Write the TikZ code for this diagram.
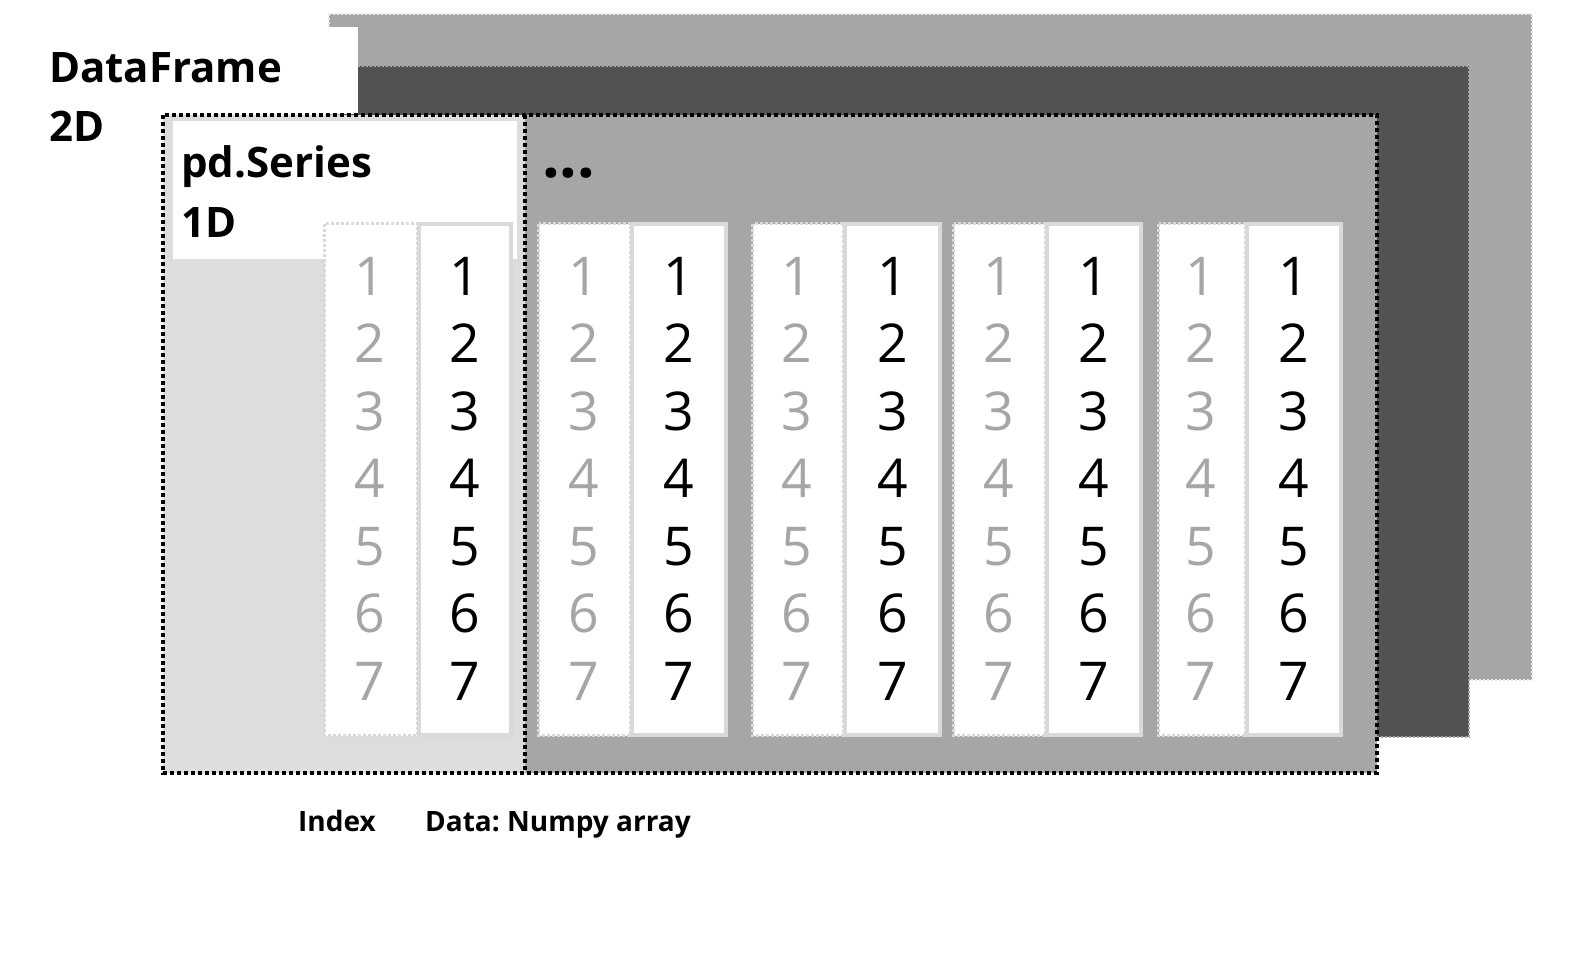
\documentclass[tikz,border=0pt]{standalone}
\usepackage{fontspec}
\setmainfont{Open Sans}
\frenchspacing
\definecolor{lgray}{HTML}{A6A6A6}
\definecolor{dgray}{HTML}{525252}
\definecolor{pgray}{HTML}{DDDDDD}
\definecolor{bgray}{HTML}{D9D9D9}
\definecolor{tgray}{HTML}{A6A6A6}
\tikzset{
  dotframe/.style={draw=black, line width=4pt, dash pattern=on 4pt off 3pt},
  idxbox/.style={fill=white, draw=bgray, line width=3pt, dash pattern=on 3pt off 2pt},
  databox/.style={fill=white, draw=bgray, line width=4pt},
  idxnum/.style={anchor=base, text=tgray, inner sep=0pt, font=\fontsize{53.5}{53.5}\selectfont},
  datanum/.style={anchor=base, text=black, inner sep=0pt, font=\fontsize{53.5}{53.5}\selectfont},
  title/.style={anchor=base west, inner sep=0pt, font=\bfseries\fontsize{42}{42}\selectfont},
  dotstyle/.style={anchor=base west, inner sep=0pt, font=\bfseries\fontsize{62}{62}\selectfont},
  caption/.style={anchor=base west, inner sep=0pt, font=\bfseries\fontsize{28}{28}\selectfont}
}
\begin{document}
\begin{tikzpicture}[x=1pt,y=-1pt]
\useasboundingbox[fill=white] (0,0) rectangle (1580,954);
% back layers
\draw[fill=lgray, draw=white!75!lgray, line width=2pt, dash pattern=on 2pt off 2pt] (329,14) rectangle (1532,680);
\draw[fill=dgray, draw=lgray, line width=2pt, dash pattern=on 2pt off 2pt] (340,66) rectangle (1469,737);
\fill[white] (0,27) rectangle (358,114);
% inner frame
\fill[pgray] (163,115) rectangle (525,773);
\fill[lgray] (525,115) rectangle (1377,773);
\fill[white] (173,121) rectangle (517,259);
% columns
\foreach \a/\b/\c [count=\g] in {323/417/513, 537/630/728, 751/843/942, 952/1045/1143, 1157/1245/1343}{
  \draw[idxbox] (\a+1.5,223.5) rectangle (\b,735.5);
  \draw[databox] (\b+2,224) rectangle (\c-2,735);
  \foreach \r in {1,...,7}{
    \node[idxnum] (i\g\r) at ({(\a+\b)/2}, {295+67.5*(\r-1)}) {\r};
    \node[datanum] (d\g\r) at ({(\b+\c)/2}, {295+67.5*(\r-1)}) {\r};
  }
}
\draw[dotframe] (163,115) rectangle (1377,773);
\draw[dotframe] (525,115) -- (525,773);
% labels
\node[title] (df) at (49,82) {DataFrame};
\node[title] (df2) at (49,141.5) {2D};
\node[title] (ps) at (181,177) {pd.Series};
\node[title] (ps2) at (181,237) {1D};
\node[dotstyle] (dots) at (542,177) {...};
\node[caption] (idx) at (298,831) {Index};
\node[caption] (dat) at (425,831) {Data: Numpy array};
\end{tikzpicture}
\end{document}
